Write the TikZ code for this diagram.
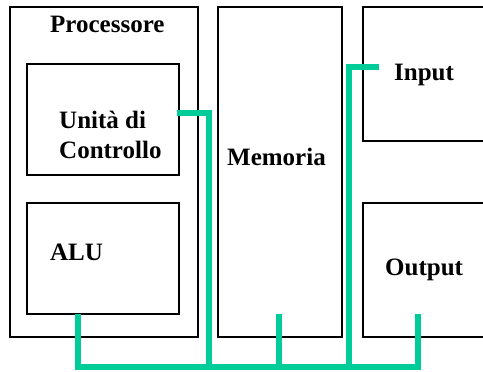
\documentclass[tikz,border=0pt]{standalone}
\usepackage{fontspec}
\setmainfont{Liberation Serif}
\usetikzlibrary{calc}
\definecolor{busgreen}{RGB}{0,204,153}
\begin{document}
\begin{tikzpicture}[x=1pt,y=-1pt,
  unitbox/.style={draw=black, line width=2.2pt, inner sep=0pt, outer sep=0pt},
  lbl/.style={font=\fontsize{25}{30}\selectfont\bfseries, inner sep=0pt, anchor=base west},
  bus/.style={draw=busgreen, line width=6.5pt, line join=miter}]
\useasboundingbox (0,0) rectangle (483,372);
\clip (0,0) rectangle (483,372);
\fill[white] (0,0) rectangle (483,372);
% boxes
\node[unitbox, minimum width=188pt, minimum height=330pt] (proc) at (104,172) {};
\node[unitbox, minimum width=152pt, minimum height=111pt] (cu) at (103,119.5) {};
\node[unitbox, minimum width=152pt, minimum height=111pt] (alu) at (103,258.5) {};
\node[unitbox, minimum width=124pt, minimum height=330pt] (mem) at (280,172) {};
\node[unitbox, minimum width=160pt, minimum height=134pt] (inp) at (443,74) {};
\node[unitbox, minimum width=160pt, minimum height=134pt] (outp) at (443,270) {};
% labels
\node[lbl] (tproc) at (50,33) {Processore};
\node[lbl] (tcu1) at (59,128) {Unità di};
\node[lbl] (tcu2) at (59,158) {Controllo};
\node[lbl] (talu) at (50,260) {ALU};
\node[lbl] (tmem) at (227,165) {Memoria};
\node[lbl] (tinp) at (394,80) {Input};
\node[lbl] (toutp) at (385,275) {Output};
% bus coordinates
\coordinate (busALU) at (78,367);
\coordinate (busCU) at (209,367);
\coordinate (busMEM) at (279,367);
\coordinate (busIN) at (349,367);
\coordinate (busOUT) at (418,367);
\coordinate (cuport) at (177,113);
\coordinate (inport) at (379,67);
% connectors
\draw[bus] ([xshift=-25pt]alu.south) -- (busALU) -- (busOUT) -- ([xshift=-25pt,yshift=23pt]outp.south);
\draw[bus] (cuport) -| (busCU);
\draw[bus] ([xshift=-1pt,yshift=23pt]mem.south) -- (busMEM);
\draw[bus] (inport) -| (busIN);
\end{tikzpicture}
\end{document}
